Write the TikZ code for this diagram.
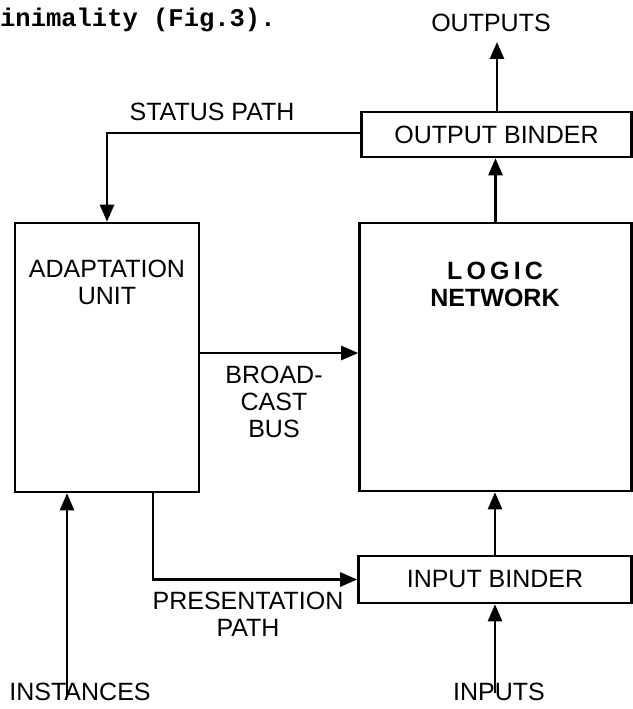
\documentclass[tikz,border=0pt]{standalone}
\usepackage{fontspec}
\setmainfont{Liberation Sans}
\newfontfamily\typewriter{Liberation Mono}
\usetikzlibrary{positioning,arrows.meta}

\begin{document}
\begin{tikzpicture}[x=1pt, y=-1pt,
    every node/.style = {font=\fontsize{25}{27}\selectfont, align=center, inner sep=2pt},
    block/.style = {draw, line width=2.6pt, inner sep=0pt},
    wire/.style = {line width=2.6pt},
    arr/.style = {wire, -{Triangle[length=17pt,width=14pt]}}]
    \useasboundingbox (0,0) rectangle (632,709);
    % running text of the page above the figure
    \node (caption) [anchor=base west, inner sep=0pt, font=\typewriter\bfseries\fontsize{25.5}{27}\selectfont] at (0,27) {inimality (Fig.3).};
    % blocks
    \node (adapt) [block, minimum width=184pt, minimum height=269pt] at (107,357.5) {};
    \node (lnet)  [block, minimum width=272pt, minimum height=268pt] at (495.5,357) {};
    \node (obind) [block, minimum width=270pt, minimum height=45pt] at (496.5,134.5) {OUTPUT BINDER};
    \node (ibind) [block, minimum width=273pt, minimum height=47pt] at (495,579.5) {INPUT BINDER};
    \node (adaptlbl) at (107,282) {ADAPTATION\\UNIT};
    \node (lnetlbl) [font=\bfseries\fontsize{25}{27}\selectfont] at (495,284) {L\,O\,G\,I\,C\\NETWORK};
    % outer ends
    \node (outs) at (491,23) {OUTPUTS};
    \node (ins) at (499,692) {INPUTS};
    \node (inst) at (80,692) {INSTANCES};
    % path labels
    \node (statlbl) at (212,112) {STATUS PATH};
    \node (buslbl) at (274,402) {BROAD-\\CAST\\BUS};
    \node (preslbl) at (248,614) {PRESENTATION\\PATH};
    % connectors
    \draw[arr] (obind.north -| outs.south) ++(6pt,0) coordinate (otail) -- (otail |- 0,42);
    \draw[arr] (lnet.north) -- (obind.south -| lnet.north);
    \draw[arr] (ibind.north) -- (lnet.south -| ibind.north);
    \draw[arr] (ins.north -| ibind.south) ++(0,-12pt) -- (ibind.south);
    \draw[arr] ([xshift=-13pt,yshift=-15pt]inst.north) -- ([xshift=-13pt]inst.north |- adapt.south);
    \draw[arr] (obind.west |- 0,133) -| (adapt.north);
    \draw[arr] (adapt.east |- 0,353) -- (lnet.west |- 0,353);
    \draw[arr] ([xshift=46pt]adapt.south) |- (ibind.west);
\end{tikzpicture}
\end{document}
